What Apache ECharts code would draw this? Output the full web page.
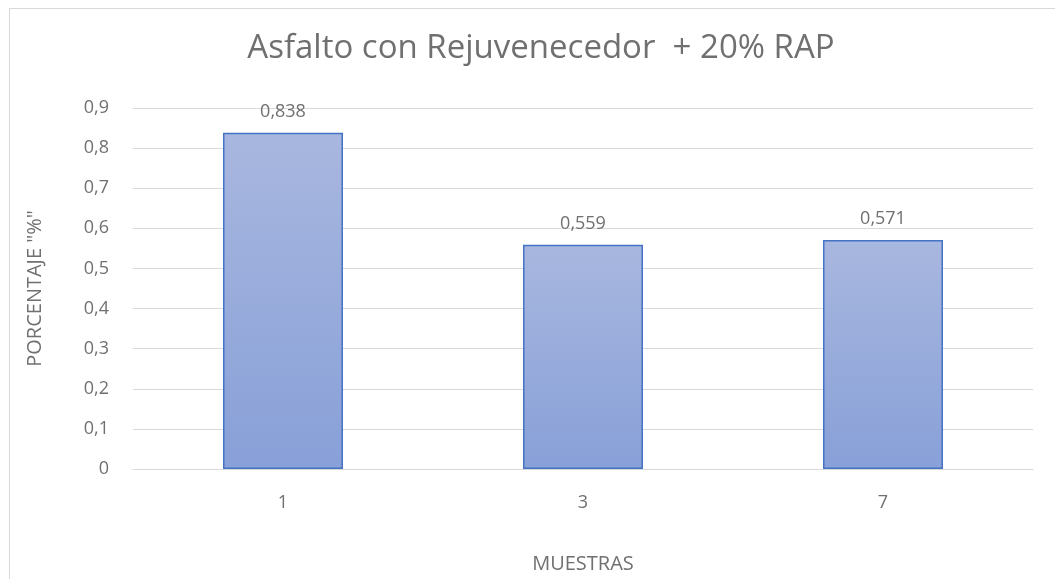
<!DOCTYPE html>
<html>
<head>
<meta charset="utf-8">
<script src="https://cdn.jsdelivr.net/npm/echarts@6/dist/echarts.min.js"></script>
<style>
  html, body { margin: 0; padding: 0; background: #fff; }
  #frame { position: absolute; left: 9px; top: 8px; width: 1060px; height: 590px; border: 1px solid #d9d9d9; box-sizing: border-box; }
  #chart { position: absolute; left: 0; top: 0; width: 1055px; height: 579px; }
</style>
</head>
<body>
<div id="frame"></div>
<div id="chart"></div>
<script>
const categories = ['1', '3', '7']
const values = [0.838, 0.559, 0.571]
const yTicks = [0, 0.1, 0.2, 0.3, 0.4, 0.5, 0.6, 0.7, 0.8, 0.9]

const fmt = v => String(v).replace('.', ',')
const font = '"Open Sans", sans-serif'
const grey = '#707070'

const myChart = echarts.init(document.getElementById('chart'))
myChart.setOption({
  animation: false,
  textStyle: { fontFamily: font },
  title: {
    text: 'Asfalto con Rejuvenecedor  + 20% RAP',
    left: 536,
    textAlign: 'center',
    top: 27,
    textStyle: { fontSize: 33, fontWeight: 'normal', color: grey, fontFamily: font }
  },
  grid: { left: 133, right: 22, top: 108, bottom: 110, outerBoundsMode: 'none' },
  xAxis: {
    type: 'category',
    data: categories,
    name: 'MUESTRAS',
    nameLocation: 'middle',
    nameGap: 85,
    nameTextStyle: { fontSize: 20, color: grey },
    axisLine: { lineStyle: { color: '#d9d9d9', width: 1 } },
    axisTick: { show: false },
    axisLabel: { fontSize: 18, color: grey, margin: 25 }
  },
  yAxis: {
    type: 'value',
    min: yTicks[0],
    max: yTicks[yTicks.length - 1],
    interval: 0.1,
    name: 'PORCENTAJE "%"',
    nameLocation: 'middle',
    nameGap: 88,
    nameTextStyle: { fontSize: 20, color: grey },
    axisLine: { show: false },
    axisTick: { show: false },
    splitLine: { lineStyle: { color: '#d9d9d9', width: 1 } },
    axisLabel: { fontSize: 18, color: grey, margin: 24, formatter: v => fmt(Math.round(v * 10) / 10) }
  },
  series: [{
    type: 'bar',
    data: values,
    barWidth: '40%',
    itemStyle: {
      color: new echarts.graphic.LinearGradient(0, 0, 0, 1, [
        { offset: 0, color: '#a8b7df' },
        { offset: 1, color: '#88a0d8' }
      ]),
      borderColor: '#4472c4',
      borderWidth: 1.5
    },
    label: {
      show: true,
      position: 'top',
      distance: 12,
      fontSize: 18,
      color: grey,
      formatter: p => fmt(p.value)
    }
  }]
})
</script>
</body>
</html>
